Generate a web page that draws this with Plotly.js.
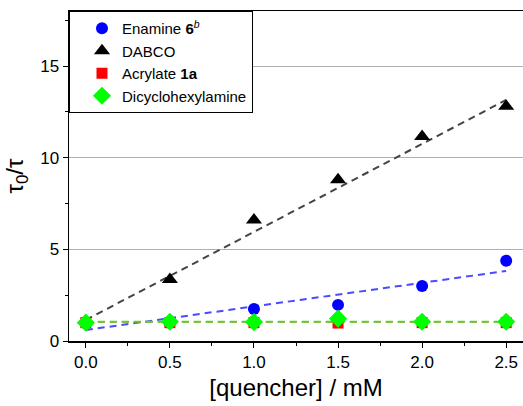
<!DOCTYPE html>
<html><head><meta charset="utf-8">
<script src="https://cdn.plot.ly/plotly-3.0.1.min.js"></script>
<style>html,body{margin:0;padding:0;background:#fff}#chart{width:523px;height:406px}</style>
</head><body><div id="chart"></div>
<script>
const conc = [0, 0.5, 1.0, 1.5, 2.0, 2.5];
const enamine = [1.0, 1.0, 1.75, 1.97, 3.0, 4.38];
const dabco = [null, 3.35, 6.6, 8.8, 11.15, 12.8];
const acrylate = [1.0, 1.0, 1.0, 0.98, 1.0, 1.0];
const dicyclo = [1.0, 1.05, 1.03, 1.22, 1.05, 1.05];
const fitX = [0, 2.5];
const dabcoFit = [1.15, 13.15];
const enamineFit = [0.6, 3.82];
const acrylateFit = [1.05, 1.05];
const dicycloFit = [1.05, 1.05];
const names = ['Enamine <b>6</b><sup><i>b</i></sup>', 'DABCO', 'Acrylate <b>1a</b>', 'Dicyclohexylamine'];
const yTicks = [0, 5, 10, 15];

const dash = '7px,5px';
const traces = [
  {x: fitX, y: dabcoFit, mode: 'lines', line: {color: '#444', width: 2, dash: dash}, showlegend: false, hoverinfo: 'skip'},
  {x: fitX, y: enamineFit, mode: 'lines', line: {color: '#4a4aff', width: 2, dash: dash}, showlegend: false, hoverinfo: 'skip'},
  {x: fitX, y: acrylateFit, mode: 'lines', line: {color: '#ff2020', width: 1.5, dash: dash}, showlegend: false, hoverinfo: 'skip'},
  {x: fitX, y: dicycloFit, mode: 'lines', line: {color: '#55d22a', width: 2.2, dash: dash}, showlegend: false, hoverinfo: 'skip'},
  {x: conc, y: enamine, name: names[0], mode: 'markers', marker: {symbol: 'circle', size: 12, color: '#0000ff'}},
  {x: conc, y: dabco, name: names[1], mode: 'markers', marker: {symbol: 'triangle-up', size: 14, color: '#000'}},
  {x: conc, y: acrylate, name: names[2], mode: 'markers', marker: {symbol: 'square', size: 11, color: '#ff0000'}},
  {x: conc, y: dicyclo, name: names[3], mode: 'markers', marker: {symbol: 'diamond', size: 14, color: '#00ff00'}}
];

const layout = {
  width: 523, height: 406,
  margin: {l: 69, r: 0, t: 11, b: 65},
  paper_bgcolor: '#fff', plot_bgcolor: '#fff',
  font: {family: 'Liberation Sans, Arial, sans-serif', color: '#000'},
  showlegend: true,
  legend: {x: 0, y: 1, xanchor: 'left', yanchor: 'top', bgcolor: '#fff', bordercolor: '#000', borderwidth: 1,
           font: {size: 15, color: '#000'}, tracegroupgap: 0, itemsizing: 'trace', indentation: 12},
  xaxis: {
    range: [-0.1, 2.6], tickvals: conc, ticktext: conc.map(v => v.toFixed(1)),
    ticks: 'outside', ticklen: 5, tickwidth: 1, tickcolor: '#000',
    minor: {dtick: 0.25, tick0: 0, ticks: 'outside', ticklen: 3, tickcolor: '#000'},
    showline: true, linecolor: '#000', linewidth: 1.5, mirror: true,
    showgrid: false, zeroline: false,
    tickfont: {size: 17}, title: {text: '[quencher] / mM', font: {size: 24}, standoff: 8}
  },
  yaxis: {
    range: [0, 18], tickvals: yTicks,
    ticks: 'outside', ticklen: 5, tickwidth: 1, tickcolor: '#000',
    minor: {dtick: 2.5, tick0: 0, ticks: 'outside', ticklen: 3, tickcolor: '#000', showgrid: false},
    showline: true, linecolor: '#000', linewidth: 1.5,
    showgrid: true, gridcolor: '#b0b0b0', gridwidth: 1, zeroline: false,
    tickfont: {size: 17}, title: {text: 'τ<sub>0</sub>/τ', font: {size: 24}, standoff: 10}
  }
};
Plotly.newPlot('chart', traces, layout, {displayModeBar: false, staticPlot: true});
</script></body></html>
